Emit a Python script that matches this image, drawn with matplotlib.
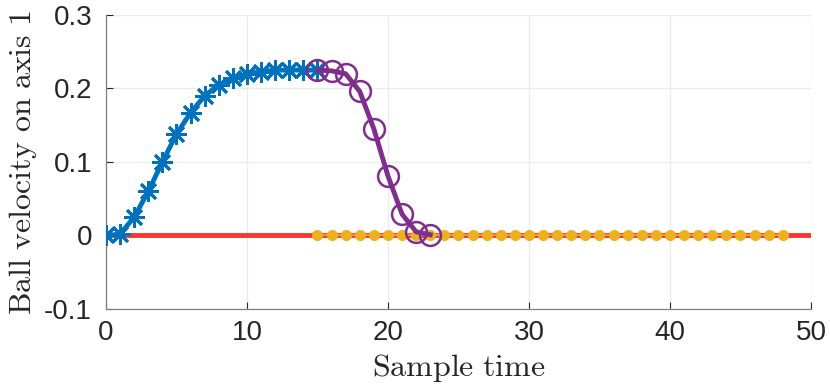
import numpy as np
import matplotlib.pyplot as plt

# ball velocity samples
t_blue = list(range(0, 16))
v_blue = [0.0, 0.002, 0.025, 0.06, 0.10, 0.138, 0.167, 0.19, 0.205, 0.214,
          0.22, 0.223, 0.225, 0.225, 0.225, 0.225]

t_purple = list(range(15, 24))
v_purple = [0.225, 0.224, 0.22, 0.196, 0.145, 0.081, 0.029, 0.005, 0.001]

t_red = [0, 50]
v_red = [0, 0]

t_yellow = list(range(15, 49))
v_yellow = [0.0] * len(t_yellow)

plt.rcParams['mathtext.fontset'] = 'cm'
plt.rcParams['font.family'] = ['Liberation Sans', 'DejaVu Sans']

fig = plt.figure(figsize=(8.3, 3.91), dpi=100)
ax = fig.add_axes([0.1277, 0.2097, 0.8493, 0.752])

ax.plot(t_red, v_red, color='#FF3333', lw=3.5, zorder=2)
ax.plot(t_yellow, v_yellow, color='#EDB120', lw=1.2, marker='o', ms=7,
        mec='#EDB120', zorder=3)
ax.plot(t_blue, v_blue, color='#0072BD', lw=3.5, marker=(8, 2, 0), ms=15,
        mew=2, zorder=4)
ax.plot(t_purple, v_purple, color='#7E2F8E', lw=3.5, marker='o', ms=15,
        mfc='none', mew=1.8, zorder=5)

ax.set_xlim(0, 50)
ax.set_ylim(-0.1, 0.3)
ax.set_xticks([0, 10, 20, 30, 40, 50])
ax.set_yticks([-0.1, 0, 0.1, 0.2, 0.3])
ax.set_yticklabels(['-0.1', '0', '0.1', '0.2', '0.3'])
ax.tick_params(labelsize=20, colors='#262626', length=5, width=0.8)
ax.tick_params(direction='in')
ax.tick_params(axis='y', pad=10)
ax.tick_params(axis='x', pad=8)

ax.grid(True, color='#EBEBEB', lw=1)
ax.set_axisbelow(True)
for s in ['top', 'right']:
    ax.spines[s].set_visible(False)
for s in ['left', 'bottom']:
    ax.spines[s].set_color('#808080')
    ax.spines[s].set_linewidth(0.9)

ax.set_xlabel(r'$\mathrm{Sample\ time}$', fontsize=23, color='#262626', labelpad=4)
ax.set_ylabel(r'$\mathrm{Ball\ velocity\ on\ axis\ 1}$', fontsize=23,
              color='#262626', labelpad=4)

fig.savefig('out.png', dpi=100)
